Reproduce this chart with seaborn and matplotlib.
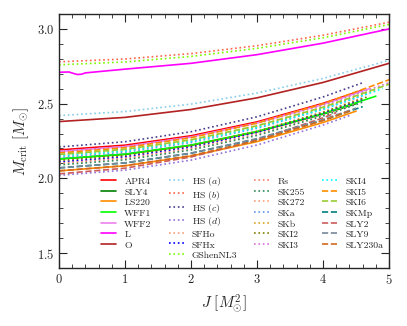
import numpy as np
import pandas as pd
import matplotlib
matplotlib.use("Agg")
import matplotlib.pyplot as plt
import seaborn as sns
from matplotlib.ticker import MultipleLocator

# -------------------------------
# data
# -------------------------------
J_GRID = [0, 1, 2, 3, 4, 5]

names = ["APR4", "SLY4", "LS220", "WFF1", "WFF2", "L", "O",
         "HS $(a)$", "HS $(b)$", "HS $(c)$", "HS $(d)$", "SFHo", "SFHx", "GShenNL3",
         "Rs", "SK255", "SK272", "SKa", "SKb", "SKI2", "SKI3",
         "SKI4", "SKI5", "SKI6", "SKMp", "SLY2", "SLY9", "SLY230a"]

# last J value of each curve
j_end = [4.6, 4.5, 4.5, 4.8, 4.7, 5.0, 5.0,
         5.0, 5.0, 4.6, 4.4, 4.6, 4.6, 5.0,
         4.5, 4.6, 4.7, 4.7, 4.8, 4.7, 5.0,
         4.9, 5.0, 5.0, 4.6, 4.2, 4.5, 4.4]

# M_crit at J = 0,1,2,3,4 and at j_end
m_crit = [
    [2.19, 2.222, 2.285, 2.378, 2.502, 2.59],
    [2.13, 2.161, 2.221, 2.311, 2.430, 2.50],
    [2.05, 2.084, 2.149, 2.246, 2.374, 2.45],
    [2.13, 2.162, 2.223, 2.314, 2.433, 2.55],
    [2.18, 2.213, 2.277, 2.371, 2.495, 2.60],
    [2.71, 2.731, 2.770, 2.828, 2.905, 3.00],
    [2.38, 2.408, 2.461, 2.539, 2.642, 2.77],
    [2.42, 2.447, 2.497, 2.571, 2.669, 2.79],
    [2.78, 2.799, 2.835, 2.888, 2.958, 3.045],
    [2.21, 2.245, 2.312, 2.412, 2.545, 2.64],
    [2.02, 2.055, 2.122, 2.223, 2.357, 2.42],
    [2.11, 2.145, 2.212, 2.312, 2.445, 2.54],
    [2.11, 2.144, 2.210, 2.307, 2.437, 2.53],
    [2.76, 2.779, 2.816, 2.870, 2.941, 3.03],
    [2.10, 2.134, 2.199, 2.296, 2.424, 2.50],
    [2.09, 2.124, 2.190, 2.287, 2.417, 2.51],
    [2.16, 2.193, 2.257, 2.351, 2.475, 2.58],
    [2.14, 2.174, 2.239, 2.335, 2.462, 2.57],
    [2.15, 2.184, 2.248, 2.343, 2.468, 2.59],
    [2.12, 2.154, 2.219, 2.315, 2.442, 2.55],
    [2.18, 2.213, 2.276, 2.368, 2.489, 2.64],
    [2.15, 2.183, 2.247, 2.340, 2.463, 2.60],
    [2.17, 2.205, 2.272, 2.370, 2.499, 2.66],
    [2.16, 2.194, 2.258, 2.352, 2.476, 2.63],
    [2.07, 2.103, 2.168, 2.263, 2.389, 2.48],
    [2.03, 2.068, 2.143, 2.256, 2.405, 2.44],
    [2.07, 2.104, 2.169, 2.266, 2.394, 2.47],
    [2.05, 2.085, 2.152, 2.253, 2.387, 2.45],
]

# the small kink in the L curve near J ~ 0.3
l_kink_j = [0.15, 0.22, 0.28, 0.34, 0.4]
l_kink_m = [2.712, 2.702, 2.695, 2.697, 2.706]

colors = ["red", "green", "darkorange", "lime", "violet", "magenta", "firebrick",
          "skyblue", "tomato", "darkslateblue", "mediumpurple", "lightsalmon", "blue", "lawngreen",
          "salmon", "seagreen", "lightsalmon", "cornflowerblue", "goldenrod", "olive", "orchid",
          "cyan", "darkorange", "yellowgreen", "teal", "indianred", "lightslategray", "chocolate"]

styles = ["-"] * 7 + [":"] * 14 + [":"] + ["--"] * 6

# -------------------------------
# long table
# -------------------------------
rows = []
for name, je, ms in zip(names, j_end, m_crit):
    js = [j for j in J_GRID if j < je] + [je]
    pts = list(zip(js, ms))
    if name == "L":
        pts = pts[:1] + list(zip(l_kink_j, l_kink_m)) + pts[1:]
    for j, m in pts:
        rows.append({"EOS": name, "J": j, "M": m})
df = pd.DataFrame(rows)

# -------------------------------
# plot
# -------------------------------
sns.set_style("ticks")
plt.rcParams["font.family"] = "cmr10"
plt.rcParams["mathtext.fontset"] = "cm"
plt.rcParams["axes.formatter.use_mathtext"] = True

fig = plt.figure(figsize=(4.07, 3.26), dpi=100)
ax = fig.add_axes([0.145, 0.178, 0.811, 0.779])

for name, c, ls in zip(names, colors, styles):
    sub = df[df["EOS"] == name]
    sns.lineplot(data=sub, x="J", y="M", ax=ax, color=c, linestyle=ls,
                 linewidth=1.2, label=name, sort=False)

ax.set_xlim(0, 5)
ax.set_ylim(1.4, 3.1)
ax.xaxis.set_major_locator(MultipleLocator(1))
ax.xaxis.set_minor_locator(MultipleLocator(0.2))
ax.yaxis.set_major_locator(MultipleLocator(0.5))
ax.yaxis.set_minor_locator(MultipleLocator(0.1))
ax.tick_params(which="both", direction="in", top=True, right=True, labelsize=9)
ax.tick_params(which="major", length=6, width=0.8)
ax.tick_params(which="minor", length=3, width=0.6)
for s in ax.spines.values():
    s.set_linewidth(1.0)

ax.set_xlabel(r"$J\ [M_{\odot}^{2}]$", fontsize=11)
ax.set_ylabel(r"$M_{\rm crit}\ [M_{\odot}]$", fontsize=11)

ax.legend(ncol=4, frameon=False, fontsize=7, loc="lower right",
          bbox_to_anchor=(0.995, 0.015), borderaxespad=0.0,
          handlelength=1.6, handletextpad=0.8, handleheight=1.2,
          columnspacing=1.75, labelspacing=0.04)

fig.savefig("out.png", dpi=100)
